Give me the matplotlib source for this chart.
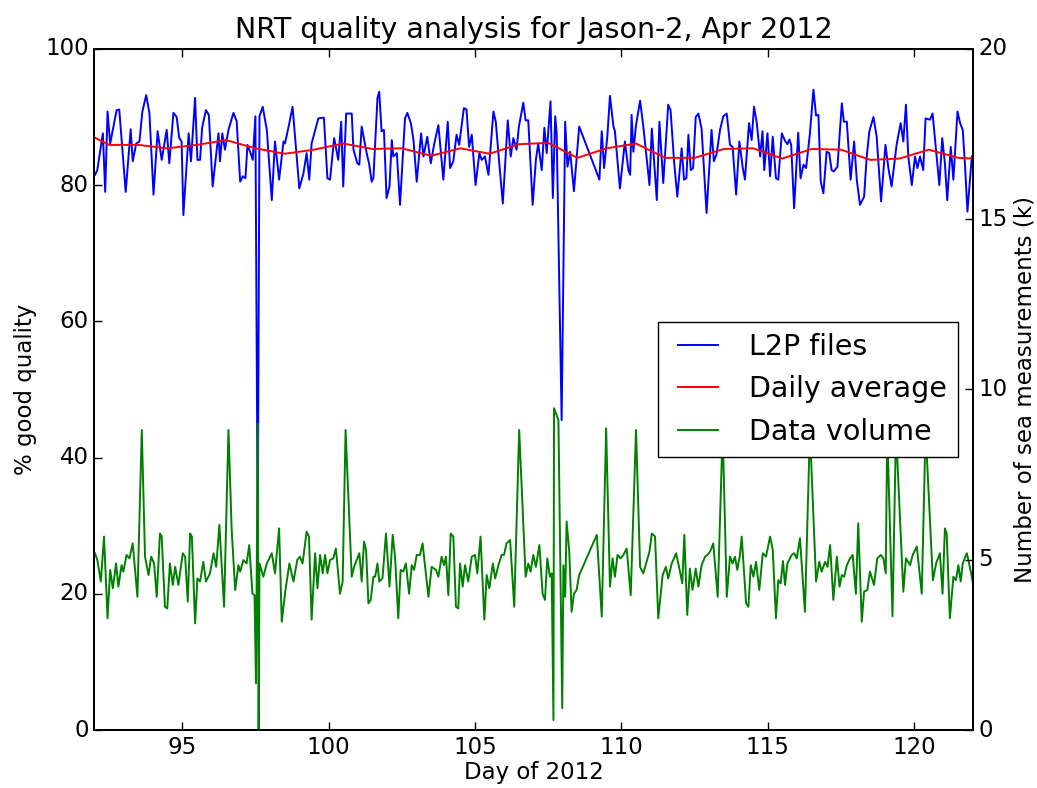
import matplotlib
matplotlib.use("Agg")
import matplotlib.pyplot as plt

# L2P files: % good quality per file
l2p_day = [92.02, 92.10, 92.29, 92.37, 92.45, 92.54, 92.76, 92.85, 93.07, 93.24, 93.31, 93.43, 93.54, 93.64,
           93.77, 93.88, 94.02, 94.16, 94.30, 94.47, 94.56, 94.70, 94.81, 94.90, 94.98, 95.04, 95.22, 95.30,
           95.44, 95.52, 95.61, 95.68, 95.81, 95.91, 96.04, 96.24, 96.29, 96.37, 96.46, 96.58, 96.75, 96.86,
           96.98, 97.07, 97.16, 97.23, 97.32, 97.41, 97.50, 97.58, 97.64, 97.75, 97.89, 98.06, 98.17, 98.31,
           98.46, 98.51, 98.66, 98.77, 99.00, 99.14, 99.25, 99.34, 99.42, 99.65, 99.84, 99.96, 100.05, 100.19,
           100.33, 100.43, 100.50, 100.60, 100.79, 100.85, 100.98, 101.05, 101.13, 101.30, 101.39, 101.47,
           101.53, 101.67, 101.73, 101.81, 101.89, 101.98, 102.08, 102.16, 102.21, 102.33, 102.44, 102.61,
           102.69, 102.81, 102.90, 103.01, 103.16, 103.24, 103.37, 103.49, 103.61, 103.75, 103.92, 104.07,
           104.15, 104.26, 104.37, 104.46, 104.62, 104.71, 104.80, 104.89, 105.02, 105.15, 105.23, 105.34,
           105.46, 105.63, 105.71, 105.82, 105.95, 106.12, 106.22, 106.31, 106.42, 106.50, 106.65, 106.73,
           106.82, 106.97, 107.08, 107.16, 107.28, 107.37, 107.45, 107.58, 107.66, 107.74, 107.79, 107.96,
           108.08, 108.16, 108.25, 108.38, 108.56, 109.25, 109.33, 109.41, 109.52, 109.61, 109.73, 109.78,
           109.95, 110.12, 110.24, 110.30, 110.35, 110.41, 110.50, 110.64, 110.75, 110.96, 111.04, 111.21,
           111.30, 111.43, 111.60, 111.68, 111.80, 111.91, 112.06, 112.14, 112.22, 112.29, 112.37, 112.45,
           112.54, 112.63, 112.74, 112.91, 113.08, 113.16, 113.25, 113.37, 113.48, 113.60, 113.71, 113.80,
           113.92, 114.03, 114.14, 114.22, 114.36, 114.45, 114.53, 114.62, 114.74, 114.82, 114.88, 114.99,
           115.08, 115.17, 115.28, 115.36, 115.48, 115.59, 115.67, 115.74, 115.80, 115.90, 116.04, 116.12,
           116.22, 116.31, 116.44, 116.56, 116.65, 116.73, 116.81, 116.90, 117.01, 117.10, 117.18, 117.26,
           117.38, 117.53, 117.60, 117.70, 117.83, 117.95, 118.04, 118.15, 118.29, 118.38, 118.47, 118.61,
           118.72, 118.87, 119.02, 119.12, 119.23, 119.40, 119.54, 119.63, 119.72, 119.80, 119.92, 120.03,
           120.11, 120.20, 120.31, 120.39, 120.54, 120.63, 120.71, 120.86, 120.96, 121.05, 121.13, 121.25,
           121.34, 121.48, 121.57, 121.66, 121.74, 121.82, 121.97]
l2p_pct = [81.5, 82.2, 87.6, 79.0, 90.8, 86.1, 91.0, 91.1, 79.0, 88.2, 83.5, 86.1, 86.4, 90.8,
           93.2, 90.6, 78.6, 87.9, 83.7, 88.1, 83.2, 90.6, 90.0, 86.9, 86.4, 75.6, 87.6, 83.5,
           92.8, 83.7, 83.7, 88.4, 91.0, 90.3, 79.8, 87.6, 83.5, 87.6, 85.2, 88.1, 90.6, 89.4,
           80.5, 81.3, 81.0, 85.9, 84.9, 83.7, 90.1, 28.3, 90.1, 91.5, 88.1, 77.8, 86.4, 80.8,
           86.4, 86.1, 89.1, 91.5, 79.5, 81.7, 84.7, 80.8, 86.1, 89.8, 89.9, 81.0, 80.8, 86.9,
           83.7, 89.3, 79.8, 90.5, 90.5, 85.2, 83.2, 83.0, 88.6, 84.7, 83.0, 80.5,
           81.0, 92.8, 93.7, 87.9, 88.1, 78.1, 79.8, 86.6, 84.2, 84.7, 77.1, 89.8,
           90.6, 89.1, 86.6, 80.5, 87.6, 84.2, 87.1, 83.2, 86.1, 88.8, 80.8, 89.3,
           82.5, 83.5, 87.4, 85.9, 91.3, 91.1, 85.6, 87.4, 80.0, 84.7, 83.7, 84.2,
           81.5, 90.8, 89.3, 83.7, 77.3, 89.5, 84.2, 86.9, 85.2, 88.6, 92.1, 89.5,
           89.5, 77.1, 83.7, 86.1, 82.2, 88.4, 84.7, 92.3, 78.1, 90.1, 87.6, 45.5,
           89.3, 82.7, 84.9, 79.1, 88.6, 80.8, 87.9, 82.5, 87.1, 93.1, 88.6, 87.9,
           79.5, 86.4, 82.2, 81.5, 90.3, 84.9, 88.8, 92.4, 88.6, 80.0, 88.3, 77.8,
           89.3, 80.3, 91.8, 91.0, 83.5, 78.3, 85.4, 80.8, 81.0, 87.4, 82.2, 82.5,
           90.0, 90.5, 88.3, 75.9, 88.1, 83.5, 84.5, 88.1, 90.1, 90.5, 85.9, 85.6,
           78.6, 86.4, 82.7, 80.8, 89.1, 86.6, 91.5, 89.3, 84.2, 87.9, 82.2, 87.6,
           81.3, 87.1, 81.0, 80.8, 87.6, 86.5, 86.0, 86.7, 85.9, 76.6, 87.7, 81.0,
           83.0, 82.5, 87.6, 94.0, 90.2, 90.3, 80.5, 78.8, 84.9, 84.7, 82.2, 82.0,
           82.7, 92.0, 89.3, 89.3, 80.8, 86.4, 80.8, 77.1, 78.3, 84.2, 87.9, 90.0,
           87.1, 77.6, 85.9, 82.5, 79.8, 85.9, 89.1, 86.4, 91.8, 84.2, 80.0, 84.2,
           82.5, 84.2, 82.2, 89.8, 89.6, 90.5, 86.9, 80.0, 86.9, 83.2, 77.8, 85.6,
           80.8, 90.8, 89.1, 88.1, 82.7, 76.1, 84.2]

# daily average of % good quality
avg_day = [92.0, 92.5, 93.5, 94.5, 95.5, 96.5, 97.5, 98.5, 99.5, 100.5, 101.5, 102.5, 103.5, 104.5,
           105.5, 106.5, 107.5, 108.5, 109.5, 110.5, 111.5, 112.5, 113.5, 114.5, 115.5, 116.5, 117.5,
           118.5, 119.5, 120.5, 121.5, 122.0]
avg_pct = [87.0, 85.9, 85.9, 85.4, 85.9, 86.6, 85.4, 84.6, 85.2, 86.1, 85.3, 85.4, 84.3, 85.4,
           84.6, 86.0, 86.2, 84.0, 85.4, 86.1, 84.0, 84.0, 85.3, 85.4, 83.9, 85.3, 85.2,
           83.7, 83.9, 85.2, 84.0, 83.9]

# number of sea measurements per file (thousands)
vol_day = [92.02, 92.10, 92.22, 92.33, 92.45, 92.54, 92.63, 92.74, 92.82, 92.93, 92.99, 93.10, 93.20,
           93.31, 93.47, 93.62, 93.73, 93.85, 93.94, 94.04, 94.13, 94.24, 94.30, 94.41, 94.49, 94.58,
           94.68, 94.76, 94.87, 95.02, 95.10, 95.19, 95.27, 95.33, 95.44, 95.52, 95.61, 95.72, 95.81,
           95.95, 96.07, 96.16, 96.27, 96.43, 96.58, 96.69, 96.81, 96.92, 96.98, 97.09, 97.20, 97.29,
           97.40, 97.47, 97.52, 97.58, 97.61, 97.64, 97.77, 97.89, 98.06, 98.17, 98.31, 98.40, 98.52,
           98.66, 98.80, 98.93, 99.02, 99.11, 99.25, 99.33, 99.42, 99.54, 99.62, 99.71, 99.80, 99.88,
           99.96, 100.05, 100.16, 100.25, 100.39, 100.48, 100.58, 100.79, 100.87, 101.05, 101.13, 101.21,
           101.28, 101.36, 101.44, 101.53, 101.59, 101.67, 101.73, 101.84, 101.96, 102.08, 102.19, 102.27,
           102.38, 102.46, 102.55, 102.64, 102.75, 102.84, 102.92, 103.01, 103.12, 103.21, 103.29, 103.41,
           103.52, 103.67, 103.75, 103.86, 103.94, 104.01, 104.09, 104.17, 104.26, 104.35, 104.43, 104.49,
           104.58, 104.66, 104.77, 104.89, 105.00, 105.08, 105.19, 105.32, 105.40, 105.49, 105.61, 105.69,
           105.80, 105.91, 105.99, 106.08, 106.20, 106.34, 106.51, 106.73, 106.82, 106.90, 106.99, 107.08,
           107.20, 107.31, 107.39, 107.47, 107.56, 107.62, 107.68, 107.70, 107.85, 107.98, 108.02, 108.08,
           108.13, 108.22, 108.30, 108.38, 108.47, 108.56, 109.16, 109.33, 109.48, 109.61, 109.70, 109.78,
           109.87, 109.97, 110.07, 110.18, 110.32, 110.50, 110.64, 110.75, 110.96, 111.04, 111.15, 111.26,
           111.41, 111.52, 111.60, 111.72, 111.87, 111.97, 112.08, 112.15, 112.25, 112.34, 112.43, 112.54,
           112.63, 112.74, 112.86, 112.94, 113.03, 113.14, 113.29, 113.46, 113.60, 113.71, 113.80, 113.88,
           113.96, 114.05, 114.11, 114.26, 114.34, 114.42, 114.51, 114.60, 114.71, 114.83, 114.94, 115.08,
           115.17, 115.28, 115.36, 115.44, 115.52, 115.59, 115.67, 115.82, 115.90, 115.99, 116.10, 116.27,
           116.44, 116.65, 116.76, 116.84, 116.96, 117.04, 117.13, 117.24, 117.36, 117.45, 117.53, 117.61,
           117.70, 117.81, 117.90, 118.01, 118.09, 118.21, 118.29, 118.40, 118.49, 118.63, 118.74, 118.86,
           118.95, 119.03, 119.08, 119.26, 119.38, 119.63, 119.72, 119.86, 119.95, 120.09, 120.26, 120.39,
           120.64, 120.75, 120.88, 120.97, 121.05, 121.11, 121.22, 121.34, 121.43, 121.51, 121.59, 121.66,
           121.75, 121.80, 121.89, 122.00]
vol_k = [5.19, 5.00, 4.36, 5.68, 3.28, 4.70, 4.16, 4.89, 4.21, 4.84, 4.65, 5.14, 5.04,
         5.48, 3.91, 8.81, 5.09, 4.55, 5.09, 4.89, 3.91, 5.77, 5.68, 3.62, 3.57, 4.89,
         4.26, 4.79, 4.26, 5.19, 5.09, 3.77, 5.77, 5.68, 3.13, 4.45, 4.36, 4.94, 4.36,
         4.60, 5.19, 4.79, 6.02, 3.62, 8.81, 5.87, 4.11, 4.84, 4.65, 4.99, 4.89, 5.43,
         4.00, 3.96, 1.37, 9.00, 0.00, 4.89, 4.50, 4.89, 5.19, 4.60, 5.92, 3.18, 4.06,
         4.89, 4.36, 4.99, 5.09, 4.89, 5.82, 5.68, 3.24, 5.19, 4.16, 5.14, 4.60, 5.14,
         4.60, 4.99, 5.04, 5.33, 4.00, 4.36, 8.81, 4.50, 4.79, 5.19, 4.36, 5.53,
         5.29, 3.72, 3.82, 4.50, 4.50, 4.89, 4.36, 4.45, 5.77, 4.21, 5.73, 5.09,
         3.28, 4.70, 4.65, 4.89, 4.00, 4.84, 4.70, 5.14, 5.14, 5.48, 4.84, 3.91,
         4.79, 4.70, 4.50, 5.09, 4.84, 5.09, 3.96, 5.77, 5.68, 3.62, 3.57, 4.89,
         4.21, 4.84, 4.36, 5.09, 5.14, 4.60, 5.68, 3.24, 4.55, 4.16, 4.89, 4.45,
         4.84, 5.14, 5.14, 5.48, 5.58, 3.62, 8.81, 4.50, 4.89, 4.65, 5.14, 4.79,
         5.43, 4.00, 3.82, 5.04, 4.50, 4.60, 0.29, 9.45, 9.10, 0.64, 4.84, 3.91,
         6.12, 5.24, 3.47, 4.00, 4.11, 4.55, 5.73, 3.33, 8.86, 4.21, 5.04, 4.50,
         5.14, 5.04, 5.14, 5.33, 3.96, 8.81, 4.79, 4.60, 5.24, 5.77, 5.68, 3.28,
         4.55, 4.79, 4.45, 4.89, 5.19, 4.79, 4.31, 5.73, 3.38, 4.74, 4.11, 4.74,
         4.21, 4.84, 5.09, 5.14, 5.24, 5.48, 3.91, 8.81, 3.91, 5.09, 4.89, 5.09,
         4.70, 5.14, 5.68, 3.72, 3.62, 4.84, 4.50, 4.94, 4.11, 5.19, 5.09, 5.68,
         5.29, 3.28, 4.40, 4.30, 4.96, 4.26, 4.89, 5.14, 5.19, 5.04, 5.63, 3.47,
         8.81, 4.36, 4.94, 4.65, 4.94, 4.79, 5.43, 3.82, 5.09, 4.21, 4.55, 4.50,
         4.84, 5.04, 5.14, 4.00, 6.07, 3.18, 4.06, 4.11, 4.65, 4.26, 5.04, 5.14,
         5.04, 4.60, 8.81, 3.34, 8.81, 4.06, 5.04, 4.84, 5.14, 5.39, 4.00, 8.81,
         4.40, 4.89, 5.19, 4.00, 5.92, 5.77, 3.28, 4.50, 4.40, 4.84, 4.36, 4.89,
         5.09, 5.19, 4.84, 4.36]

plt.style.use('classic')
plt.rcParams['font.family'] = 'DejaVu Sans'
plt.rcParams['font.size'] = 16.5
plt.rcParams['axes.linewidth'] = 1.4
plt.rcParams['xtick.major.size'] = 5.5
plt.rcParams['ytick.major.size'] = 5.5
plt.rcParams['xtick.major.width'] = 1.0
plt.rcParams['ytick.major.width'] = 1.0

fig = plt.figure(figsize=(10.37, 7.88), dpi=100, facecolor='white')
ax1 = fig.add_axes([0.091, 0.0736, 0.847, 0.8644])
ax2 = ax1.twinx()

l1, = ax1.plot(l2p_day, l2p_pct, color='b', lw=1.4, label='L2P files')
l2, = ax1.plot(avg_day, avg_pct, color='r', lw=1.4, label='Daily average')
l3, = ax2.plot(vol_day, vol_k, color='g', lw=1.4, label='Data volume')

ax1.set_xlim(92, 122)
ax1.set_ylim(0, 100)
ax2.set_ylim(0, 20)
ax1.set_xticks([95, 100, 105, 110, 115, 120])
ax1.set_yticks([0, 20, 40, 60, 80, 100])
ax2.set_yticks([0, 5, 10, 15, 20])

ax1.set_title('NRT quality analysis for Jason-2, Apr 2012', fontsize=20.5, pad=8)
ax1.set_xlabel('Day of 2012', fontsize=16.5, labelpad=2)
ax1.set_ylabel('% good quality', fontsize=16.5, labelpad=6)
ax2.set_ylabel('Number of sea measurements (k)', fontsize=16.5, labelpad=4)

ax2.legend([l1, l2, l3], ['L2P files', 'Daily average', 'Data volume'],
           loc='center right', fontsize=20.5, handlelength=2.0, frameon=True)

fig.savefig('out.png', dpi=100, facecolor='white')
